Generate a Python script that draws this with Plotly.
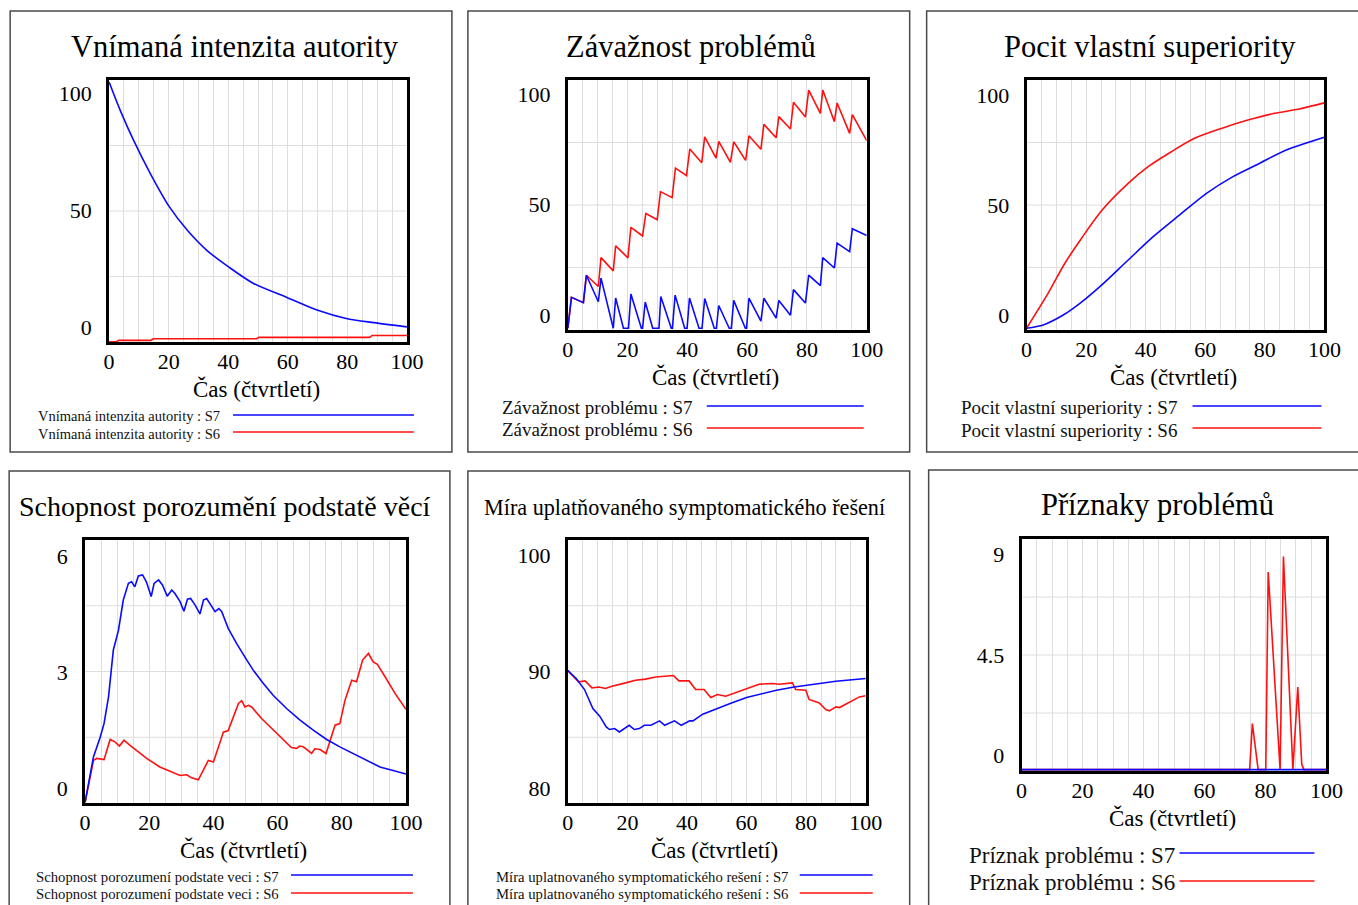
import plotly.graph_objects as go

W, H = 1358, 905
# horizontal calibration of the photographed page (measured from earlier renders)
OX, SX = 5.85, 0.9836
BLUE = '#0a0aff'
RED = '#ff1010'
GRID = '#dedede'
FONT = 'Liberation Serif, Times New Roman, serif'

# ---------------- data (time in quarters) ----------------
# Panel 1: Vnímaná intenzita autority
p1_s7_t = [0, 3.7, 8.2, 13.8, 20.2, 26.2, 32.9, 40, 48.5, 59.7, 69.8, 79.6, 88.9, 100]
p1_s7_v = [105, 93, 80.1, 65.9, 51.6, 41.6, 32.8, 25.9, 18.7, 12.7, 7.3, 3.7, 1.9, 0.1]
p1_s6_t = [0, 2.5, 3.2, 14.0, 14.8, 49.5, 50.3, 87.5, 88.3, 100]
p1_s6_v = [-6.3, -6.3, -5.7, -5.7, -5.0, -5.0, -4.4, -4.4, -3.6, -3.6]

# Panel 2: Závažnost problémů
p2_s7_t = [0, 1.2, 5.2, 6.2, 10.2, 11.1, 15.2, 16.0, 18.6, 20.3, 21.1, 24.6, 25.0, 25.9, 28.4, 30.5,
           31.1, 34.6, 35.0, 35.9, 39.1, 39.9, 40.7, 43.9, 44.9, 45.8, 49.0, 49.7, 50.5, 54.0, 54.7,
           55.5, 59.4, 59.8, 60.6, 64.6, 65.6, 69.7, 70.6, 74.5, 75.5, 79.5, 80.6, 84.5, 85.3, 89.2,
           90.1, 94.3, 95.2, 100]
p2_s7_v = [-6, 8.0, 5.6, 18.0, 6.0, 16.7, -6, 7.7, -6, -6, 9.5, -6, -6, 5.9, -6, -6,
           8.4, -6, -6, 9.0, -6, -6, 7.7, -6, -6, 7.5, -6, -6, 4.3, -6, -6,
           6.6, -6, -6, 7.6, -2.8, 7.6, -1.4, 6.6, -0.1, 11.5, 5.4, 18.1, 13.3, 26.0, 21.3,
           32.6, 28.7, 39.1, 36.0]
p2_s6_t = [0, 1.2, 5.2, 6.2, 10.2, 11.1, 15.2, 16.0, 20.1, 21.1, 25.0, 26.1, 29.9, 31.0, 34.9, 36.0,
           39.7, 40.8, 44.8, 45.8, 49.6, 50.5, 54.4, 55.5, 59.5, 60.6, 64.6, 65.6, 69.7, 70.6, 74.5,
           75.5, 79.5, 80.6, 84.5, 85.3, 89.2, 90.1, 94.3, 95.2, 100]
p2_s6_v = [-6, 8.0, 5.6, 18.0, 12.9, 26.0, 20.0, 31.3, 25.9, 39.7, 35.8, 46.0, 43.2, 55.9, 53.2, 66.6,
           63.2, 75.2, 69.0, 80.7, 71.1, 78.7, 69.2, 78.5, 70.1, 81.2, 75.1, 86.4, 80.3, 89.9, 84.3,
           96.4, 89.7, 101.9, 91.4, 102.0, 87.6, 96.1, 82.3, 90.8, 79.0]

# Panel 3: Pocit vlastní superiority
p3_s7_t = [0, 5.6, 12.3, 17.9, 24.6, 33.5, 42.5, 51.4, 60.4, 69.3, 78.3, 87.2, 100]
p3_s7_v = [-6, -4.5, 0, 5.3, 12.9, 24.2, 35.6, 45.5, 55.3, 62.9, 69, 75, 80.8]
p3_s6_t = [0, 7.2, 12.8, 18.4, 25.1, 34.1, 40.8, 48.6, 56.4, 65.4, 74.3, 83.3, 91.1, 100]
p3_s6_v = [-6, 9.8, 23.4, 34.8, 47.3, 59.8, 67.4, 74.2, 80.3, 84.8, 88.6, 91.7, 93.5, 96.4]

# Panel 4: Schopnost porozumění podstatě věcí
p4_s7_t = [0, 2.6, 4.7, 5.9, 7.3, 8.8, 10.4, 11.9, 13.5, 14.5, 15.5, 16.6, 17.9, 19.1, 20.6, 21.5,
           22.9, 24.1, 25.6, 27.0, 28.0, 29.6, 30.8, 31.9, 32.9, 34.3, 35.8, 36.9, 37.9, 39.3, 40.5,
           41.7, 42.6, 44.6, 47.2, 50.4, 52.4, 55.5, 58.6, 62.8, 67.0, 71.1, 75.3, 79.4, 83.6, 87.8,
           91.9, 96.0, 100]
p4_s7_v = [-0.35, 0.82, 1.33, 1.68, 2.37, 3.58, 4.09, 4.87, 5.30, 5.34, 5.21, 5.49, 5.52, 5.34, 4.96, 5.30,
           5.39, 5.26, 4.97, 5.13, 5.04, 4.83, 4.58, 4.89, 4.91, 4.74, 4.51, 4.87, 4.91, 4.74, 4.57,
           4.65, 4.57, 4.14, 3.75, 3.32, 3.06, 2.72, 2.41, 2.07, 1.77, 1.51, 1.27, 1.08, 0.91, 0.73,
           0.56, 0.47, 0.38]
p4_s6_t = [0, 2.6, 3.6, 5.9, 7.8, 9.3, 10.7, 12.1, 14.0, 19.2, 23.3, 29.6, 31.7, 33.2, 35.3, 36.9,
           38.4, 40.0, 41.5, 43.1, 44.6, 46.2, 47.8, 48.8, 49.8, 50.9, 51.9, 55.0, 58.6, 61.7, 64.3,
           65.9, 66.9, 68.0, 70.6, 71.6, 73.2, 75.1, 76.3, 77.9, 79.4, 81.0, 83.1, 84.6, 86.5, 88.3,
           89.8, 91.1, 93.5, 96.6, 100]
p4_s6_v = [-0.35, 0.73, 0.78, 0.75, 1.27, 1.21, 1.10, 1.25, 1.12, 0.78, 0.56, 0.34, 0.36, 0.28, 0.23, 0.47,
           0.73, 0.69, 1.08, 1.46, 1.50, 1.85, 2.20, 2.27, 2.11, 2.15, 2.11, 1.81, 1.51, 1.25, 1.06,
           1.04, 1.10, 1.08, 0.91, 1.03, 1.01, 0.91, 1.25, 1.64, 1.68, 2.28, 2.80, 2.76, 3.32, 3.49,
           3.27, 3.21, 2.89, 2.46, 2.05]

# Panel 5: Míra uplatňovaného symptomatického řešení
p5_s7_t = [0, 2.8, 5.6, 8.4, 10.7, 12.9, 14.0, 15.7, 17.3, 19.0, 20.6, 22.3, 24.0, 25.7, 27.9, 30.8,
           32.5, 35.8, 38.1, 40.9, 42.0, 45.3, 50, 54.5, 60, 65, 70, 76, 80, 90, 100]
p5_s7_v = [90.1, 89.43, 88.48, 86.86, 86.2, 85.28, 85.06, 85.14, 84.85, 85.14, 85.42, 85.06, 85.14, 85.42,
           85.42, 85.8, 85.42, 85.8, 85.42, 85.8, 85.8, 86.37, 86.86, 87.28, 87.8, 88.14, 88.42, 88.7,
           88.85, 89.19, 89.43]
p5_s6_t = [0, 3.6, 5.8, 8.1, 10.4, 12.6, 14.8, 17.1, 19.4, 22.7, 26.1, 29.5, 32.8, 35.4, 37.3, 40.7,
           42.9, 45.7, 48.0, 50.2, 53.0, 56.4, 59.7, 64.2, 68.7, 70.9, 75.4, 76.5, 79.9, 81.0, 84.4,
           86.6, 87.8, 90.0, 91.2, 94.5, 97.9, 100]
p5_s6_v = [90.1, 89.14, 89.22, 88.62, 88.7, 88.57, 88.77, 88.94, 89.05, 89.28, 89.37, 89.56, 89.62, 89.68,
           89.22, 89.22, 88.48, 88.48, 87.8, 88.05, 87.91, 88.22, 88.57, 88.94, 89.0, 88.94, 89.05, 88.48,
           88.42, 87.63, 87.34, 86.77, 86.66, 87.0, 86.94, 87.42, 87.85, 87.95]

# Panel 6: Příznaky problémů
p6_s7_t = [0, 100]
p6_s7_v = [-0.64, -0.64]
p6_s6_t = [0, 74.8, 75.7, 77.6, 80.1, 80.9, 84.8, 85.9, 89.0, 90.6, 91.9, 92.6, 100]
p6_s6_v = [-0.64, -0.64, 1.42, -0.64, -0.64, 8.21, -0.64, 8.91, -0.64, 3.06, -0.4, -0.64, -0.64]

x_ticks = [0, 20, 40, 60, 80, 100]
x_title = 'Čas (čtvrtletí)'

titles = ['Vnímaná intenzita autority', 'Závažnost problémů', 'Pocit vlastní superiority',
          'Schopnost porozumění podstatě věcí', 'Míra uplatňovaného symptomatického řešení',
          'Příznaky problémů']
legend_names = ['Vnímaná intenzita autority', 'Závažnost problému', 'Pocit vlastní superiority',
                'Schopnost porozumení podstate veci', 'Míra uplatnovaného symptomatického rešení',
                'Príznak problému']
y_ticks = [[0, 50, 100], [0, 50, 100], [0, 50, 100], [0, 3, 6], [80, 90, 100], [0, 4.5, 9]]
y_ticktext = [['0', '50', '100'], ['0', '50', '100'], ['0', '50', '100'], ['0', '3', '6'],
              ['80', '90', '100'], ['0', '4.5', '9']]

series = [((p1_s7_t, p1_s7_v), (p1_s6_t, p1_s6_v)),
          ((p2_s7_t, p2_s7_v), (p2_s6_t, p2_s6_v)),
          ((p3_s7_t, p3_s7_v), (p3_s6_t, p3_s6_v)),
          ((p4_s7_t, p4_s7_v), (p4_s6_t, p4_s6_v)),
          ((p5_s7_t, p5_s7_v), (p5_s6_t, p5_s6_v)),
          ((p6_s7_t, p6_s7_v), (p6_s6_t, p6_s6_v))]
# which series are smooth curves (S7, S6)
smooth = [(True, False), (False, False), (True, True), (False, False), (False, False), (False, False)]

# ---------------- layout (target pixel positions) ----------------
layout_cfg = [
    dict(box=(10, 11, 452, 452), plot=(109, 80, 407, 342), yr=(-6.4, 105.9),
         title_xy=(235, 47), title_size=30.5, axt_y=389,
         leg_x=36, leg_ty=(416, 434), leg_size=14.5, leg_line=(233, 414), leg_ly=(415, 432)),
    dict(box=(468, 11, 910, 452), plot=(568, 80, 867, 330), yr=(-6.8, 106.5),
         title_xy=(691, 47), title_size=30.5, axt_y=377,
         leg_x=500, leg_ty=(407, 429), leg_size=19, leg_line=(707, 864), leg_ly=(406, 428)),
    dict(box=(927, 11, 1390, 452), plot=(1027, 80, 1325, 330), yr=(-6.8, 106.8),
         title_xy=(1150, 47), title_size=30.5, axt_y=377,
         leg_x=959, leg_ty=(407, 430), leg_size=19, leg_line=(1193, 1322), leg_ly=(406, 428)),
    dict(box=(9, 471, 450, 915), plot=(85, 540, 406, 803), yr=(-0.37, 6.42),
         title_xy=(225, 507), title_size=28, axt_y=850,
         leg_x=34, leg_ty=(877, 894), leg_size=14.7, leg_line=(291, 413), leg_ly=(875, 893)),
    dict(box=(468, 471, 910, 915), plot=(568, 540, 866, 803), yr=(78.77, 101.28),
         title_xy=(685, 508), title_size=22.2, axt_y=850,
         leg_x=494, leg_ty=(877, 894), leg_size=14.7, leg_line=(800, 873), leg_ly=(875, 893)),
    dict(box=(929, 470, 1390, 915), plot=(1022, 539, 1327, 771), yr=(-0.70, 9.69),
         title_xy=(1158, 505), title_size=30.5, axt_y=818,
         leg_x=967, leg_ty=(855, 882), leg_size=23, leg_line=(1180, 1315), leg_ly=(853, 881)),
]


def px(x):
    return ((x - OX) / SX) / W


def py(y):
    return 1 - y / H


fig = go.Figure()
shapes = []
annotations = []
tick_font = dict(family=FONT, size=22, color='black')

for i, cfg in enumerate(layout_cfg):
    n = i + 1
    xa = 'x' if n == 1 else f'x{n}'
    ya = 'y' if n == 1 else f'y{n}'
    xkey = 'xaxis' if n == 1 else f'xaxis{n}'
    ykey = 'yaxis' if n == 1 else f'yaxis{n}'
    x0, y0, x1, y1 = cfg['plot']

    fig.update_layout(**{
        xkey: dict(domain=[px(x0), min(px(x1), 1.0)], anchor=ya, range=[0, 100],
                   tickmode='array', tickvals=x_ticks,
                   showgrid=True, gridcolor=GRID, gridwidth=1,
                   minor=dict(tickmode='linear', tick0=0, dtick=5, showgrid=True,
                              gridcolor=GRID, gridwidth=1),
                   showline=True, mirror=True, linewidth=3, linecolor='black',
                   ticks='', ticklabelstandoff=-2, layer='below traces',
                   tickfont=tick_font, zeroline=False, fixedrange=True),
        ykey: dict(domain=[py(y1), py(y0)], anchor=xa, range=list(cfg['yr']),
                   tickmode='array', tickvals=y_ticks[i], ticktext=y_ticktext[i],
                   showgrid=False, zeroline=False, layer='below traces',
                   showline=True, mirror=True, linewidth=3, linecolor='black',
                   ticks='outside', ticklen=10, tickcolor='rgba(0,0,0,0)',
                   tickfont=tick_font, fixedrange=True),
    })

    (t7, v7), (t6, v6) = series[i]
    sm7, sm6 = smooth[i]
    fig.add_trace(go.Scatter(x=t6, y=v6, mode='lines', xaxis=xa, yaxis=ya,
                             line=dict(color=RED, width=1.6,
                                       shape='spline' if sm6 else 'linear', smoothing=0.8),
                             showlegend=False, name=legend_names[i] + ' : S6'))
    fig.add_trace(go.Scatter(x=t7, y=v7, mode='lines', xaxis=xa, yaxis=ya,
                             line=dict(color=BLUE, width=1.6,
                                       shape='spline' if sm7 else 'linear', smoothing=0.8),
                             showlegend=False, name=legend_names[i] + ' : S7'))

    for q in (0.25, 0.5, 0.75):
        shapes.append(dict(type='line', xref=f'{xa} domain', yref=f'{ya} domain',
                           x0=0, x1=1, y0=q, y1=q, layer='below',
                           line=dict(color=GRID, width=1)))

    bx0, by0, bx1, by1 = cfg['box']
    shapes.append(dict(type='rect', xref='paper', yref='paper',
                       x0=px(bx0), x1=px(bx1), y0=py(by1), y1=py(by0),
                       line=dict(color='#4a4a4a', width=1.5), fillcolor='rgba(0,0,0,0)'))

    tx, ty = cfg['title_xy']
    annotations.append(dict(text=titles[i], x=px(tx), y=py(ty), xref='paper', yref='paper',
                            xanchor='center', yanchor='middle', showarrow=False,
                            font=dict(family=FONT, size=cfg['title_size'], color='black')))
    annotations.append(dict(text=x_title, x=px((x0 + x1) / 2 - 2), y=py(cfg['axt_y']),
                            xref='paper', yref='paper', xanchor='center', yanchor='middle',
                            showarrow=False, font=dict(family=FONT, size=23, color='black')))
    for k, (lab, col) in enumerate([('S7', BLUE), ('S6', RED)]):
        annotations.append(dict(text=f'{legend_names[i]} : {lab}', x=px(cfg['leg_x']),
                                y=py(cfg['leg_ty'][k]), xref='paper', yref='paper',
                                xanchor='left', yanchor='middle', showarrow=False,
                                font=dict(family=FONT, size=cfg['leg_size'], color='#111111')))
        lx0, lx1 = cfg['leg_line']
        shapes.append(dict(type='line', xref='paper', yref='paper',
                           x0=px(lx0), x1=px(lx1), y0=py(cfg['leg_ly'][k]), y1=py(cfg['leg_ly'][k]),
                           line=dict(color=col, width=1.6)))

fig.update_layout(width=W, height=H, margin=dict(l=0, r=0, t=0, b=0),
                  paper_bgcolor='white', plot_bgcolor='white',
                  shapes=shapes, annotations=annotations, showlegend=False,
                  font=dict(family=FONT, color='black'))

fig.write_html('out.html', config={'displayModeBar': False},
               post_script="document.body.style.margin='0';document.body.style.padding='0';"
                           "document.body.style.overflow='hidden';"
                           "document.documentElement.style.overflow='hidden';")
